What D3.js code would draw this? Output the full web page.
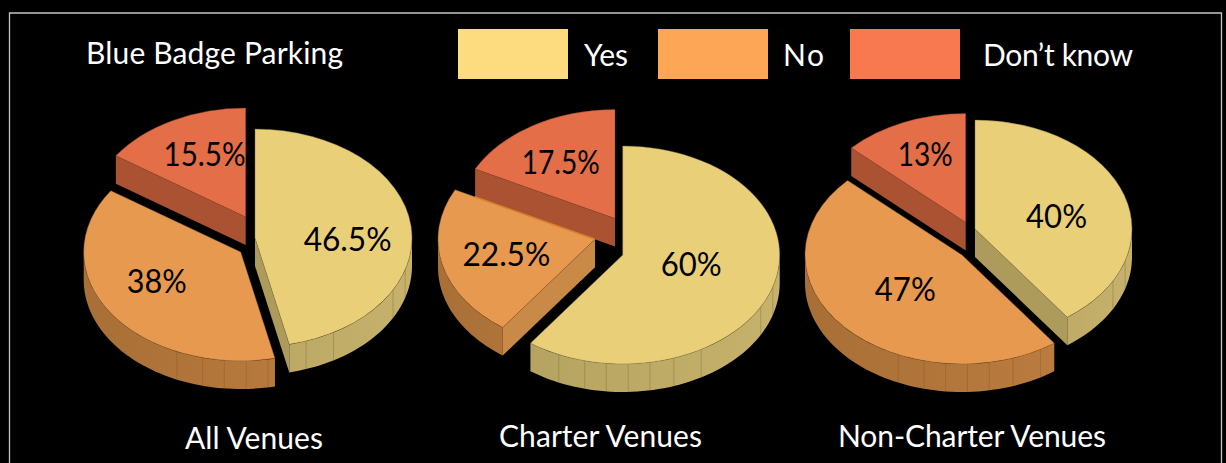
<!DOCTYPE html>
<html>
<head>
<meta charset="utf-8">
<title>Blue Badge Parking</title>
<script src="https://cdn.jsdelivr.net/npm/d3@7/dist/d3.min.js"></script>
<style>
  html, body { margin: 0; padding: 0; background: #000; }
  svg { display: block; }
  text { font-family: Lato, "Noto Sans", sans-serif; }
</style>
</head>
<body>
<svg id="chart" width="1226" height="463"></svg>
<script>
// Survey answers, one series per venue group
const answers = ["Yes", "No", "Don\u2019t know"];
const venues = ["All Venues", "Charter Venues", "Non-Charter Venues"];
const allVenues = [46.5, 38, 15.5];
const charterVenues = [60, 22.5, 17.5];
const nonCharterVenues = [40, 47, 13];
const valueLabels = [["46.5%", "38%", "15.5%"], ["60%", "22.5%", "17.5%"], ["40%", "47%", "13%"]];
const chartTitle = "Blue Badge Parking";

// Projection of the tilted pies
const rx = 157, ry = 109, depth = 28;
const squash = ry / rx;
const seamAngles = [107, 118.5, 150, 161, 170, 178, 186, 194, 204];

// Where each exploded slice's apex sits, how its label is nudged and how wide the label runs
const pies = [
  { values: allVenues, apex: [[255, 238], [240.7, 252], [245.7, 217]],
    nudge: [[-1, 9], [-6, -7], [3, -4]], labelWidth: [88, 60, 82],
    captionX: 254, captionY: 449, captionWidth: 138 },
  { values: charterVenues, apex: [[622.7, 255], [595, 239.3], [615, 218.5]],
    nudge: [[-21, -10], [3, 0], [-5, 0]], labelWidth: [61, 88, 78],
    captionX: 600.5, captionY: 447, captionWidth: 203, rimEdge: 1 },
  { values: nonCharterVenues, apex: [[975, 229], [962, 255], [965.7, 222.5]],
    nudge: [[-8, 8], [14, -8], [-3, -8]], labelWidth: [61, 61, 55],
    captionX: 972, captionY: 447, captionWidth: 268 }
];

const legendColor = d3.scaleOrdinal().domain(answers).range(["#fcdc7f", "#fca656", "#f8794f"]);
const topColor = d3.scaleOrdinal().domain(answers).range(["#e8cf78", "#e6994f", "#e36e47"]);
const cutColor = d3.scaleOrdinal().domain(answers).range(["#ad9b5b", "#c98a47", "#aa5232"]);
const wallDark = d3.scaleOrdinal().domain(answers).range(["#ae9c5c", "#a86f36", "#98492c"]);
const wallLight = d3.scaleOrdinal().domain(answers).range(["#c6b26b", "#c28043", "#aa5232"]);
const edgeColor = d3.scaleOrdinal().domain(answers).range(["#7d6f3c", "#8a5a2a", "#8a4026"]);

const svg = d3.select("#chart");
const defs = svg.append("defs");
const rad = d3.scaleLinear().domain([0, 360]).range([0, 2 * Math.PI]);
const deg = rad.invert;

// Frame: top and sides only, running off the bottom of the page
svg.append("path")
  .attr("d", "M9.5 463V13H1221.5V463")
  .attr("fill", "none")
  .attr("stroke", "#c4c4c4")
  .attr("stroke-width", 1.3);

const pieLayout = d3.pie().sort(null).value(d => d).startAngle(0).endAngle(2 * Math.PI);
const arcGen = d3.arc().innerRadius(0).outerRadius(rx);

function rimPoint(apex, a, drop) {
  return [apex[0] + rx * Math.sin(a), apex[1] - ry * Math.cos(a) + drop];
}

// Outer wall between two angles, traced along the top rim and back along the bottom
function wallPath(apex, a0, a1) {
  const n = Math.max(2, Math.ceil(deg(a1 - a0) / 2));
  const t = d3.scaleLinear().domain([0, n]).range([a0, a1]);
  const top = d3.range(n + 1).map(i => rimPoint(apex, t(i), 0));
  const bottom = d3.range(n, -1, -1).map(i => rimPoint(apex, t(i), depth));
  return d3.line()(top.concat(bottom)) + "Z";
}

pies.forEach((pie, p) => {
  const slices = pieLayout(pie.values);
  const g = svg.append("g");
  // Back slice first so the nearer ones overlap it
  [2, 1, 0].forEach(i => {
    const s = slices[i];
    const name = answers[i];
    const apex = pie.apex[i];
    const sg = g.append("g");

    // Outer wall: only the part facing the viewer
    const a0 = Math.max(s.startAngle, rad(90));
    const a1 = Math.min(s.endAngle, rad(270));
    if (a1 > a0) {
      const id = `wall-${p}-${i}`;
      const shade = d3.scaleLinear().domain([270, 90]).range([0, 1]).clamp(true);
      const mix = d3.interpolateRgb(wallDark(name), wallLight(name));
      const grad = defs.append("linearGradient").attr("id", id);
      grad.append("stop").attr("offset", "0%").attr("stop-color", mix(shade(deg(a1))));
      grad.append("stop").attr("offset", "100%").attr("stop-color", mix(shade(deg(a0))));
      sg.append("path").attr("d", wallPath(apex, a0, a1)).attr("fill", `url(#${id})`);
      seamAngles.map(rad).filter(a => a > a0 + 0.01 && a < a1 - 0.01).forEach(a => {
        const [x0, y0] = rimPoint(apex, a, 0);
        const [x1, y1] = rimPoint(apex, a, depth);
        sg.append("line").attr("x1", x0).attr("y1", y0).attr("x2", x1).attr("y2", y1)
          .attr("stroke", edgeColor(name)).attr("stroke-width", 0.6).attr("stroke-opacity", 0.7);
      });
    }

    // Cut faces that turn toward the viewer
    [[s.startAngle, Math.sin(s.startAngle) < -1e-6], [s.endAngle, Math.sin(s.endAngle) > 1e-6]]
      .filter(d => d[1])
      .forEach(([a]) => {
        const [x, y] = rimPoint(apex, a, 0);
        sg.append("path")
          .attr("d", d3.line()([apex, [x, y], [x, y + depth], [apex[0], apex[1] + depth]]) + "Z")
          .attr("fill", cutColor(name));
      });

    // Top face: a d3 arc flattened into an ellipse
    sg.append("path")
      .attr("transform", `translate(${apex[0]},${apex[1]}) scale(1,${squash})`)
      .attr("d", arcGen(s))
      .attr("fill", topColor(name))
      .attr("stroke", edgeColor(name))
      .attr("stroke-width", 0.5)
      .attr("stroke-opacity", 0.8)
      .attr("vector-effect", "non-scaling-stroke");

    if (pie.rimEdge === i) {
      const e = rimPoint(apex, s.endAngle, 0);
      const f = 0.86;
      sg.append("line")
        .attr("x1", apex[0]).attr("y1", apex[1])
        .attr("x2", apex[0] + (e[0] - apex[0]) * f).attr("y2", apex[1] + (e[1] - apex[1]) * f)
        .attr("stroke", "#d9812f").attr("stroke-width", 1.6);
    }
  });

  // Percentage labels sit over everything in this pie
  slices.forEach((s, i) => {
    const mid = (s.startAngle + s.endAngle) / 2;
    const apex = pie.apex[i];
    g.append("text")
      .attr("x", apex[0] + 0.6 * rx * Math.sin(mid) + pie.nudge[i][0])
      .attr("y", apex[1] - 0.6 * ry * Math.cos(mid) + pie.nudge[i][1])
      .attr("dy", "0.35em")
      .attr("text-anchor", "middle")
      .attr("font-size", 32)
      .attr("textLength", pie.labelWidth[i])
      .attr("lengthAdjust", "spacingAndGlyphs")
      .attr("fill", "#000")
      .text(valueLabels[p][i]);
  });

  svg.append("text")
    .attr("x", pie.captionX).attr("y", pie.captionY)
    .attr("text-anchor", "middle")
    .attr("font-size", 30)
    .attr("textLength", pie.captionWidth)
    .attr("fill", "#fff")
    .text(venues[p]);
});

// Title and legend
svg.append("text")
  .attr("x", 86).attr("y", 64)
  .attr("font-size", 30)
  .attr("textLength", 257)
  .attr("fill", "#fff")
  .text(chartTitle);

const legendSwatchX = [458, 658, 850];
const legendTextX = [584, 783, 983];
const legendTextWidth = [44, 41, 150];
answers.forEach((name, i) => {
  svg.append("rect")
    .attr("x", legendSwatchX[i]).attr("y", 29)
    .attr("width", 110).attr("height", 50)
    .attr("fill", legendColor(name));
  svg.append("text")
    .attr("x", legendTextX[i]).attr("y", 66)
    .attr("font-size", 30)
    .attr("textLength", legendTextWidth[i])
    .attr("fill", "#fff")
    .text(name);
});
</script>
</body>
</html>
